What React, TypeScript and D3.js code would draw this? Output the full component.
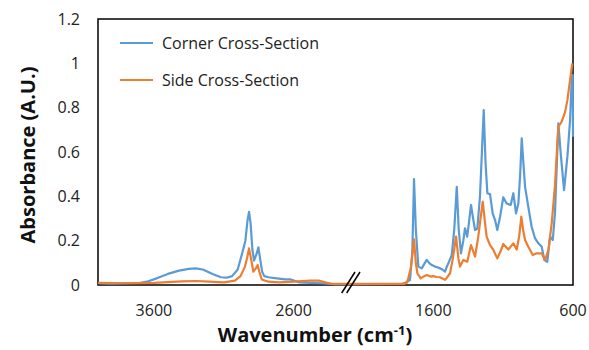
import React from "react";
import * as d3 from "d3";

const cornerWn = [4000,3900,3800,3700,3650,3580,3500,3420,3350,3300,3250,3180,3120,3080,3040,3000,2965,2945,2930,2919,2908,2895,2883,2865,2852,2840,2825,2810,2780,2720,2660,2620,2560,2480,2400,2340,2300,1820,1800,1767,1750,1738,1725,1707,1683,1660,1647,1630,1611,1588,1570,1552,1535,1516,1505,1492,1468,1450,1432,1418,1402,1385,1373,1357,1345,1330,1315,1301,1285,1266,1252,1239,1226,1213,1194,1175,1158,1142,1122,1099,1075,1046,1027,1008,991,978,967,955,943,920,896,872,848,824,805,784,764,745,729,705,688,664,640,621,608,602,600];
const cornerAbs = [0.008,0.006,0.008,0.01,0.015,0.03,0.05,0.065,0.073,0.075,0.07,0.05,0.035,0.033,0.04,0.07,0.15,0.2,0.29,0.33,0.28,0.16,0.11,0.14,0.17,0.12,0.06,0.04,0.035,0.03,0.025,0.025,0.012,0.01,0.008,0.005,0.003,0.005,0.01,0.022,0.15,0.478,0.25,0.083,0.075,0.1,0.113,0.1,0.09,0.083,0.08,0.075,0.07,0.06,0.08,0.098,0.135,0.25,0.443,0.25,0.143,0.2,0.256,0.218,0.28,0.361,0.3,0.248,0.255,0.398,0.6,0.789,0.55,0.414,0.41,0.323,0.293,0.248,0.308,0.396,0.368,0.361,0.414,0.323,0.368,0.5,0.662,0.55,0.443,0.353,0.263,0.211,0.188,0.173,0.113,0.105,0.218,0.203,0.323,0.729,0.594,0.428,0.58,0.744,0.947,0.947,0.669];

const sideWn = [4000,3800,3600,3400,3300,3200,3100,3020,2980,2948,2930,2919,2905,2888,2870,2857,2845,2828,2780,2700,2600,2480,2420,2360,2330,1810,1790,1779,1760,1738,1725,1714,1690,1665,1647,1620,1600,1575,1552,1516,1500,1480,1460,1437,1420,1409,1385,1357,1330,1301,1278,1262,1246,1230,1218,1194,1170,1142,1120,1099,1063,1027,1003,985,970,955,943,920,888,860,824,800,776,752,729,705,681,657,640,620,605];
const sideAbs = [0.01,0.008,0.01,0.016,0.018,0.015,0.012,0.02,0.04,0.083,0.13,0.165,0.12,0.06,0.075,0.09,0.06,0.025,0.015,0.012,0.015,0.02,0.02,0.01,0.005,0.005,0.01,0.03,0.08,0.206,0.1,0.053,0.03,0.04,0.045,0.038,0.04,0.036,0.035,0.023,0.035,0.053,0.12,0.218,0.12,0.083,0.113,0.105,0.18,0.128,0.218,0.3,0.376,0.28,0.218,0.18,0.158,0.12,0.15,0.185,0.16,0.188,0.16,0.22,0.308,0.24,0.203,0.173,0.135,0.143,0.143,0.113,0.158,0.28,0.45,0.714,0.737,0.78,0.834,0.93,1.0];

const xTicks = [3600, 2600, 1600, 600];
const yTicks = [0, 0.2, 0.4, 0.6, 0.8, 1, 1.2];
const seriesNames = ["Corner Cross-Section", "Side Cross-Section"];
const colors = ["#5B9BD5", "#ED7D31"];

export default function App() {
  const W = 589, H = 350;
  const left = 98, right = 573, top = 19, bottom = 285;
  const x = d3.scaleLinear().domain([4000, 600]).range([left, right]);
  const y = d3.scaleLinear().domain([0, 1.2]).range([bottom, top]);
  const line = d3.line<[number, number]>().x(d => x(d[0])).y(d => y(d[1]));
  const corner = cornerWn.map((w, i) => [w, cornerAbs[i]] as [number, number]);
  const side = sideWn.map((w, i) => [w, sideAbs[i]] as [number, number]);
  const font = "'Open Sans', sans-serif";
  return (
    <svg width={W} height={H} style={{ position: "absolute", left: 0, top: 0, background: "#fff" }}>
      <rect x={0} y={0} width={W} height={H} fill="#fff" />
      <rect x={left} y={top} width={right - left} height={bottom - top} fill="none" stroke="#000" strokeWidth={1.5} />
      <path d={line(corner) || ""} fill="none" stroke={colors[0]} strokeWidth={2.2} strokeLinejoin="round" />
      <path d={line(side) || ""} fill="none" stroke={colors[1]} strokeWidth={2.2} strokeLinejoin="round" />
      <line x1={341.7} y1={293} x2={355} y2={272} stroke="#000" strokeWidth={1.5} />
      <line x1={346.7} y1={293} x2={360} y2={272} stroke="#000" strokeWidth={1.5} />
      {yTicks.map(t => (
        <text key={t} x={80} y={y(t)} dy="0.35em" textAnchor="end" fontFamily={font} fontSize={16} fill="#222">{String(t)}</text>
      ))}
      {xTicks.map(t => (
        <text key={t} x={x(t)} y={310} dy="0.35em" textAnchor="middle" fontFamily={font} fontSize={16} fill="#222">{String(t)}</text>
      ))}
      {seriesNames.map((n, i) => (
        <g key={n}>
          <line x1={120} x2={153} y1={43 + i * 37} y2={43 + i * 37} stroke={colors[i]} strokeWidth={2} />
          <text x={162} y={43 + i * 37} dy="0.35em" fontFamily={font} fontSize={16} fill="#222">{n}</text>
        </g>
      ))}
      <text transform="translate(28,155) rotate(-90)" textAnchor="middle" dy="0.35em" fontFamily={font} fontWeight="bold" fontSize={20} fill="#111">Absorbance (A.U.)</text>
      <text x={315} y={342} textAnchor="middle" fontFamily={font} fontWeight="bold" fontSize={20} fill="#111">
        Wavenumber (cm<tspan dy={-7} fontSize={13}>-1</tspan><tspan dy={7}>)</tspan>
      </text>
    </svg>
  );
}
